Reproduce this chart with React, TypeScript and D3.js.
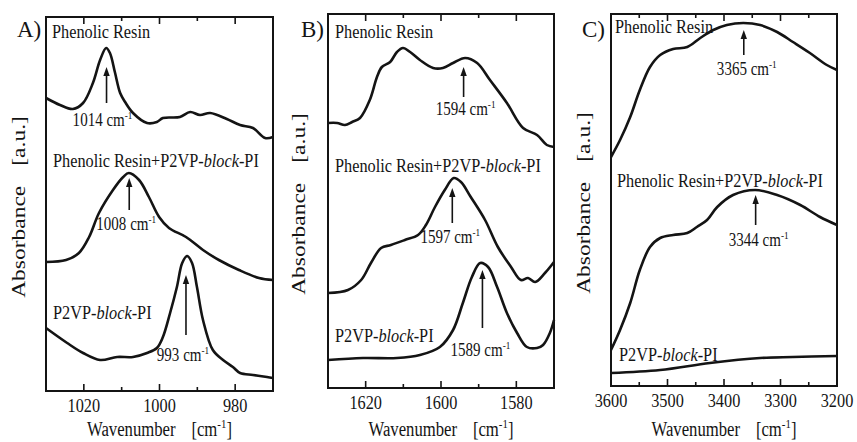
import React from 'react';
import * as d3 from 'd3';

type Pt = [number, number];

// the figure is squeezed horizontally, so text gets the same squeeze
const SX = 0.835;
const FONT = '"Liberation Serif", "Times New Roman", serif';

const seriesNames = ['Phenolic Resin', 'Phenolic Resin+P2VP-block-PI', 'P2VP-block-PI'];

// ---- A) 1030 - 970 cm-1 : [wavenumber, absorbance (a.u., offset)] ----
const resinA: Pt[] = [
  [1030, 293], [1026.3, 286], [1022.9, 282], [1020.2, 288], [1017.6, 308], [1015.7, 331],
  [1014.1, 343], [1013.1, 338], [1011.8, 319], [1010.4, 298], [1009.1, 289], [1007, 278],
  [1003.3, 268], [1000.7, 269], [999.1, 273], [994.6, 274], [991.9, 279], [989.3, 276],
  [986.6, 278], [982.2, 272], [978.7, 266], [975.3, 263], [972.1, 253], [970, 254],
];
const blendA: Pt[] = [
  [1030, 129], [1024.7, 131], [1021.3, 138], [1018.6, 154], [1016, 178], [1012.3, 201],
  [1009.6, 214], [1008.1, 218], [1005.4, 211], [1002.8, 194], [1000.1, 174], [997.5, 163],
  [993, 154], [988.5, 141], [984.3, 131], [979, 121], [973.7, 113], [970, 111],
];
const p2vpA: Pt[] = [
  [1030, 63], [1024.4, 48], [1020.2, 38], [1015.7, 31], [1011.2, 34], [1007, 34],
  [1003.3, 38], [1000.7, 43], [999.1, 54], [997.2, 78], [995.4, 104], [994, 128],
  [992.7, 135], [991.4, 128], [990.1, 104], [988.5, 71], [985.9, 41], [983.2, 31],
  [980.6, 24], [978.7, 18], [975.3, 16], [971.6, 14], [970, 13],
];
const ticksA = [1020, 1000, 980];
const minorA = [1010, 990];
// [peak, arrow tail, arrow head]
const peaksA = [[1014, 288, 324], [1008, 181, 213], [993, 56, 116]];

// ---- B) 1630 - 1570 cm-1 ----
const resinB: Pt[] = [
  [1630, 265], [1627.6, 265], [1625.5, 263], [1623.6, 266], [1621.5, 270], [1618.9, 288],
  [1617, 311], [1615.7, 321], [1613.5, 326], [1611.7, 336], [1610.1, 340], [1608.2, 336],
  [1605.6, 328], [1602.1, 320], [1599.5, 320], [1596.8, 325], [1593.6, 330], [1590.4, 325],
  [1587, 308], [1582.5, 285], [1578.2, 260], [1574.5, 253], [1571.9, 243], [1570, 241],
];
const blendB: Pt[] = [
  [1630, 95], [1624.7, 98], [1621.2, 108], [1618.6, 125], [1615.9, 140], [1613.3, 143],
  [1609.6, 148], [1606.1, 153], [1604, 163], [1601.6, 181], [1599, 198], [1596.6, 210],
  [1594.7, 206], [1592.1, 191], [1588.3, 168], [1584.9, 141], [1581.4, 121], [1578.8, 108],
  [1576.9, 110], [1575, 106], [1572.4, 115], [1570, 126],
];
const p2vpB: Pt[] = [
  [1630, 28], [1620.7, 30], [1611.7, 30], [1605.6, 33], [1600.3, 41], [1596.8, 58],
  [1594.2, 85], [1591.8, 111], [1589.6, 125], [1587.5, 121], [1585.1, 101], [1582.5, 75],
  [1579.8, 55], [1577.2, 41], [1574.5, 40], [1572.9, 43], [1571.1, 55], [1570, 68],
];
const ticksB = [1620, 1600, 1580];
const minorB = [1610, 1590];
const peaksB = [[1594, 291, 321], [1597, 165, 200], [1589, 60, 118]];

// ---- C) 3600 - 3200 cm-1 ----
const resinC: Pt[] = [
  [3600, 229], [3584, 246], [3566, 269], [3549, 296], [3531, 319], [3513, 331],
  [3490, 337], [3465, 339], [3442, 348], [3419, 356], [3395, 361], [3366, 363],
  [3336, 361], [3306, 354], [3278, 344], [3248, 333], [3218, 321], [3200, 316],
];
const blendC: Pt[] = [
  [3600, 36], [3584, 56], [3566, 83], [3549, 116], [3531, 139], [3513, 148],
  [3490, 151], [3465, 153], [3448, 159], [3430, 166], [3412, 179], [3384, 191],
  [3345, 196], [3306, 191], [3265, 181], [3230, 169], [3200, 161],
];
const p2vpC: Pt[] = [
  [3600, 13], [3513, 16], [3425, 23], [3336, 28], [3278, 29], [3200, 30],
];
const ticksC = [3600, 3500, 3400, 3300, 3200];
const minorC = [3550, 3450, 3350, 3250];
const peaksC = [[3365, 331, 356], [3344, 161, 191]];

const panels = [
  {
    letter: 'A)', left: 46, right: 273, top: 17, bottom: 391, domain: [1030, 970],
    ticks: ticksA, minor: minorA, series: [resinA, blendA, p2vpA], peaks: peaksA,
    nameX: [52, 53, 53], nameY: [38, 167, 319],
    peakOff: [[-4, 23], [-3, 20], [-3, 26]], letterX: 17, yLabX: 25, yLabY: 207,
  },
  {
    letter: 'B)', left: 328, right: 554, top: 14, bottom: 388, domain: [1630, 1570],
    ticks: ticksB, minor: minorB, series: [resinB, blendB, p2vpB], peaks: peaksB,
    nameX: [335, 335, 335], nameY: [38, 172, 342],
    peakOff: [[2, 18], [-2, 20], [-2, 28]], letterX: 301, yLabX: 305, yLabY: 204,
  },
  {
    letter: 'C)', left: 611, right: 837, top: 14, bottom: 386, domain: [3600, 3200],
    ticks: ticksC, minor: minorC, series: [resinC, blendC, p2vpC], peaks: peaksC,
    nameX: [615, 617, 619], nameY: [33, 187, 361],
    peakOff: [[3, 20], [3, 21]], letterX: 582, yLabX: 590, yLabY: 203,
  },
];

const ink = '#141414';

const SeriesName = ({ name, x, y }: { name: string; x: number; y: number }) => {
  const parts = name.split('block');
  return (
    <text transform={`translate(${x},${y}) scale(${SX},1)`} fontSize={19.5} fill={ink}>
      {parts[0]}
      {parts.length > 1 && <tspan fontStyle="italic">block</tspan>}
      {parts.length > 1 && parts[1]}
    </text>
  );
};

const Panel = ({ p }: { p: any }) => {
  const x = d3.scaleLinear().domain(p.domain).range([p.left, p.right]);
  const y = d3.scaleLinear().domain([0, p.bottom - p.top]).range([p.bottom, p.top]);
  const line = d3.line<Pt>().x((d) => x(d[0])).y((d) => y(d[1])).curve(d3.curveCatmullRom.alpha(0.5));
  const cx = (p.left + p.right) / 2;

  return (
    <g>
      {p.series.map((s: Pt[], i: number) => (
        <path key={i} d={line(s) || ''} fill="none" stroke={ink} strokeWidth={2.6} strokeLinejoin="round" />
      ))}
      <rect x={p.left} y={p.top} width={p.right - p.left} height={p.bottom - p.top} fill="none" stroke={ink} strokeWidth={2} />
      {p.ticks.map((t: number) => (
        <g key={'t' + t}>
          <line x1={x(t)} x2={x(t)} y1={p.bottom} y2={p.bottom - 7} stroke={ink} strokeWidth={1.6} />
          <line x1={x(t)} x2={x(t)} y1={p.top} y2={p.top + 7} stroke={ink} strokeWidth={1.6} />
          <text transform={`translate(${x(t)},${p.bottom + 21}) scale(${SX},1)`} fontSize={19.5} textAnchor="middle" fill={ink}>
            {t}
          </text>
        </g>
      ))}
      {p.minor.map((t: number) => (
        <g key={'m' + t}>
          <line x1={x(t)} x2={x(t)} y1={p.bottom} y2={p.bottom - 4} stroke={ink} strokeWidth={1.6} />
          <line x1={x(t)} x2={x(t)} y1={p.top} y2={p.top + 4} stroke={ink} strokeWidth={1.6} />
        </g>
      ))}
      {p.peaks.map((pk: number[], i: number) => {
        const px = x(pk[0]);
        const tail = y(pk[1]);
        const head = y(pk[2]);
        return (
          <g key={'p' + i}>
            <line x1={px} x2={px} y1={tail} y2={head + 8} stroke={ink} strokeWidth={1.6} />
            <path d={`M${px},${head} L${px - 3.2},${head + 9} L${px + 3.2},${head + 9} Z`} fill={ink} />
            <text transform={`translate(${px + p.peakOff[i][0]},${tail + p.peakOff[i][1]}) scale(${SX},1)`} fontSize={18} textAnchor="middle" fill={ink}>
              {pk[0]} cm<tspan dy={-7} fontSize={11}>-1</tspan>
            </text>
          </g>
        );
      })}
      {seriesNames.map((n, i) => (
        <SeriesName key={n} name={n} x={p.nameX[i]} y={p.nameY[i]} />
      ))}
      <text x={p.letterX} y={37} fontSize={23} fill={ink}>{p.letter}</text>
      <text transform={`translate(${cx},436) scale(${SX},1)`} fontSize={20} textAnchor="middle" fill={ink}>
        Wavenumber<tspan dx={19}>[cm</tspan><tspan dy={-8} fontSize={13}>-1</tspan><tspan dy={8}>]</tspan>
      </text>
      <text transform={`translate(${p.yLabX},${p.yLabY}) rotate(-90) scale(1,${SX})`} fontSize={23.5} textAnchor="middle" fill={ink}>
        Absorbance<tspan dx={20}>[a.u.]</tspan>
      </text>
    </g>
  );
};

export default function App() {
  return (
    <svg
      width={857}
      height={442}
      style={{ position: 'absolute', left: 0, top: 0, background: '#fff', fontFamily: FONT }}
    >
      <rect width={857} height={442} fill="#fff" />
      {panels.map((p) => (
        <Panel key={p.letter} p={p} />
      ))}
    </svg>
  );
}
